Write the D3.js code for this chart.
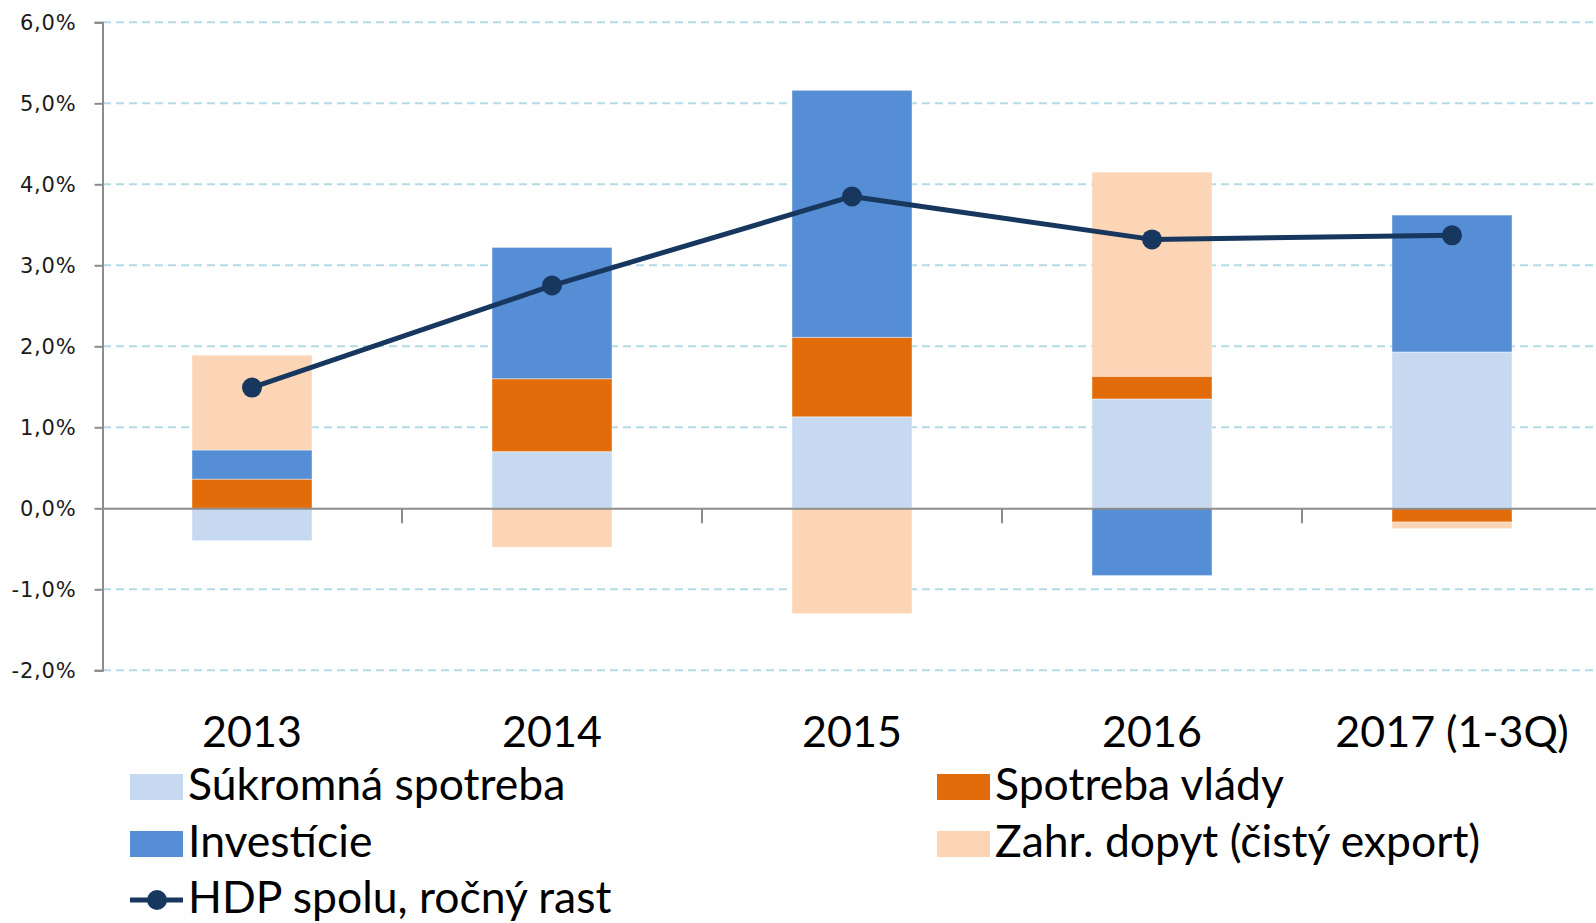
<!DOCTYPE html>
<html><head><meta charset="utf-8">
<script src="https://cdn.jsdelivr.net/npm/d3@7"></script>
<style>
html,body{margin:0;padding:0;background:#fff;}
svg{display:block;}
</style></head>
<body>
<svg id="chart" width="1596" height="923"></svg>
<script>
const categories = ["2013","2014","2015","2016","2017 (1-3Q)"];
const seriesNames = ["Súkromná spotreba","Spotreba vlády","Investície","Zahr. dopyt (čistý export)"];
const privateCons = [-0.40, 0.70, 1.13, 1.35, 1.93];
const govCons     = [0.36, 0.90, 0.98, 0.28, -0.17];
const investment  = [0.36, 1.62, 3.05, -0.83, 1.69];
const netExport   = [1.17, -0.48, -1.30, 2.52, -0.08];
const gdpGrowth   = [1.49, 2.75, 3.85, 3.32, 3.37];
const lineName = "HDP spolu, ročný rast";
const yTicks = [-2,-1,0,1,2,3,4,5,6];
const colors = ["#c6d9f0","#e36c0a","#558ed5","#fbd5b5"];
const lineColor = "#17375e";

const svg = d3.select("#chart");
const x = d3.scaleBand().domain(categories).range([102,1602]).paddingInner(0.6).paddingOuter(0.3);
const y = d3.scaleLinear().domain([-2,6]).range([670.3,22.3]);

const table = categories.map((c,i)=>({cat:c, s0:privateCons[i], s1:govCons[i], s2:investment[i], s3:netExport[i]}));
const keys = ["s0","s1","s2","s3"];
const stacked = d3.stack().keys(keys).offset(d3.stackOffsetDiverging)(table);

// gridlines
svg.append("g").selectAll("line").data(yTicks.filter(t=>t!==0)).join("line")
  .attr("x1",103).attr("x2",1596).attr("y1",d=>y(d)).attr("y2",d=>y(d))
  .attr("stroke","#b3dce8").attr("stroke-width",2).attr("stroke-dasharray","8,5");

// bars
svg.append("g").selectAll("g").data(stacked).join("g")
  .attr("fill",(d,i)=>colors[i])
  .selectAll("rect").data(d=>d).join("rect")
  .attr("x",d=>x(d.data.cat)).attr("width",x.bandwidth())
  .attr("y",d=>y(Math.max(d[0],d[1]))).attr("height",d=>Math.abs(y(d[0])-y(d[1])))
  .attr("stroke","rgba(255,255,255,0.35)").attr("stroke-width",1.2);

// y axis
const yAxis = d3.axisLeft(y).tickValues(yTicks).tickSize(8).tickPadding(18)
  .tickFormat(d=>d3.format(".1f")(d).replace(".",",").replace("\u2212","-")+"%");
const ga = svg.append("g").attr("transform","translate(102.5,0)").call(yAxis);
ga.select(".domain").attr("stroke","#8c8c8c").attr("stroke-width",2);
ga.selectAll(".tick line").attr("stroke","#8c8c8c").attr("stroke-width",2);
ga.selectAll(".tick text").attr("font-family","'DejaVu Sans', Verdana, sans-serif")
  .attr("font-size",21).attr("fill","#1a1a1a").attr("letter-spacing","0.8px");

// x axis (zero line)
const xAxis = d3.axisBottom(x).tickSize(0).tickFormat("");
const gx = svg.append("g").attr("transform",`translate(0,${y(0)})`).call(xAxis);
gx.select(".domain").attr("stroke","#8c8c8c").attr("stroke-width",2);
// category boundary ticks
svg.append("g").selectAll("line").data(categories.slice(1)).join("line")
  .attr("x1",d=>x(d)-x.bandwidth()*0.75).attr("x2",d=>x(d)-x.bandwidth()*0.75)
  .attr("y1",y(0)).attr("y2",y(0)+15)
  .attr("stroke","#8c8c8c").attr("stroke-width",2);

// category labels
svg.append("g").selectAll("text").data(categories).join("text")
  .attr("x",d=>x(d)+x.bandwidth()/2).attr("y",747)
  .attr("text-anchor","middle").attr("font-family","Lato, 'Open Sans', sans-serif")
  .attr("font-size",43).attr("fill","#000").text(d=>d);

// line
const line = d3.line().x((d,i)=>x(categories[i])+x.bandwidth()/2).y(d=>y(d));
svg.append("path").datum(gdpGrowth).attr("d",line).attr("fill","none")
  .attr("stroke",lineColor).attr("stroke-width",5).attr("stroke-linejoin","round");
svg.append("g").selectAll("circle").data(gdpGrowth).join("circle")
  .attr("cx",(d,i)=>x(categories[i])+x.bandwidth()/2).attr("cy",d=>y(d)).attr("r",10)
  .attr("fill",lineColor);

// legend
const legendPos = [[130,800],[937,800],[130,857],[937,857]];
const lg = svg.append("g");
seriesNames.forEach((n,i)=>{
  const [lx,ly] = legendPos[i];
  lg.append("rect").attr("x",lx).attr("y",ly-26).attr("width",53).attr("height",26).attr("fill",colors[i]);
  lg.append("text").attr("x",lx+58).attr("y",ly).attr("font-family","Lato, 'Open Sans', sans-serif")
    .attr("font-size",44.5).attr("fill","#000").text(n);
});
const ly3 = 913;
lg.append("line").attr("x1",130).attr("x2",183).attr("y1",ly3-13).attr("y2",ly3-13)
  .attr("stroke",lineColor).attr("stroke-width",5);
lg.append("circle").attr("cx",157).attr("cy",ly3-13).attr("r",10).attr("fill",lineColor);
lg.append("text").attr("x",188).attr("y",ly3).attr("font-family","Lato, 'Open Sans', sans-serif")
  .attr("font-size",44.5).attr("fill","#000").text(lineName);
</script>
</body></html>
